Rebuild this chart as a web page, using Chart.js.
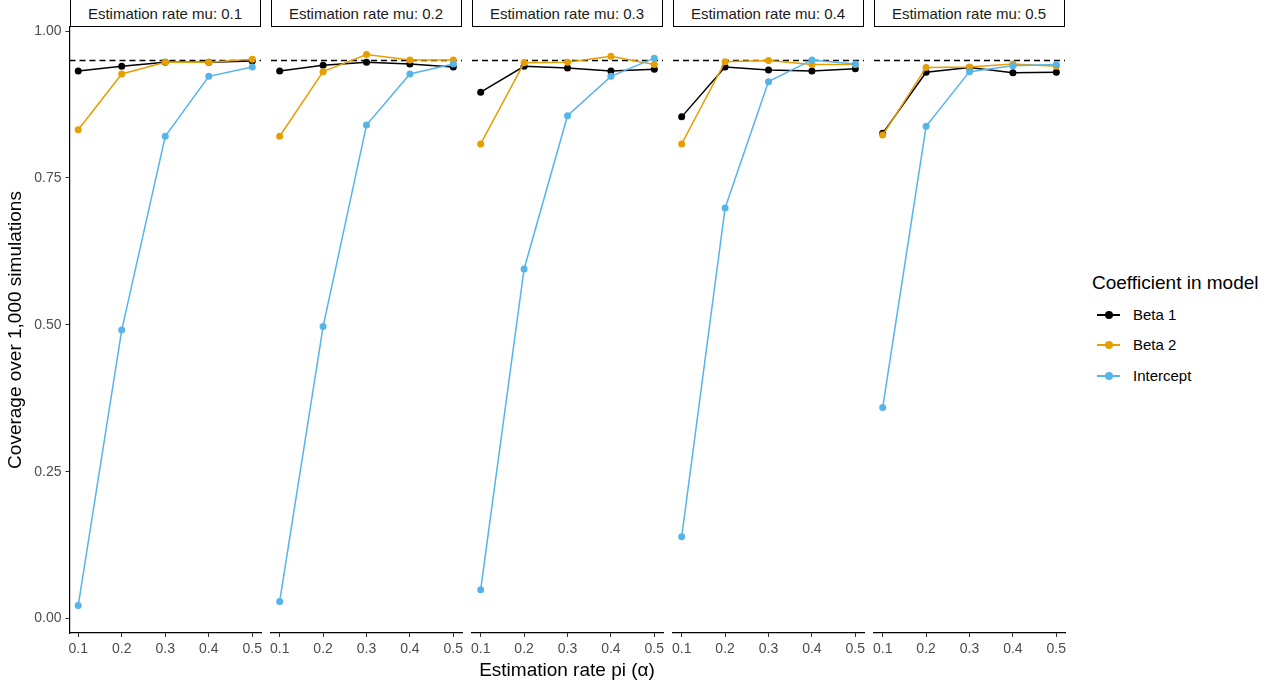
<!DOCTYPE html>
<html>
<head>
<meta charset="utf-8">
<script src="https://cdn.jsdelivr.net/npm/chart.js@4.4.1/dist/chart.umd.min.js"></script>
<style>
  body { margin: 0; background: #fff; font-family: Arial, "Liberation Sans", sans-serif; }
  #wrap { position: relative; width: 1285px; height: 691px; overflow: hidden; background: #fff; }
  .panel { position: absolute; top: 0; }
  .strip { position: absolute; top: -1px; height: 28px; box-sizing: border-box; border: 1.4px solid #000;
           background: #fff; font-size: 15px; color: #1a1a1a; text-align: center; line-height: 27px; }
  .xtitle { position: absolute; top: 659px; font-size: 19px; line-height: 22px; color: #000; white-space: nowrap; transform: translateX(-50%); }
  .legend { position: absolute; left: 1092px; top: 0; color: #000; }
  .legend .ttl { position: absolute; top: 272px; left: 0; font-size: 19px; line-height: 22px; white-space: nowrap; }
  .legend .item { position: absolute; left: 0; width: 180px; height: 20px; font-size: 15px; }
  .legend .ln { position: absolute; left: 5px; top: 9px; width: 23px; height: 2px; }
  .legend .dot { position: absolute; left: 13px; top: 6px; width: 8px; height: 8px; border-radius: 50%; }
  .legend .lab { position: absolute; left: 41px; top: 1px; line-height: 17px; white-space: nowrap; }
</style>
</head>
<body>
<div id="wrap"></div>
<script>
// values
const alphaValues = [0.1, 0.2, 0.3, 0.4, 0.5];
const muValues = ['0.1', '0.2', '0.3', '0.4', '0.5'];

const beta1 = [
  [0.932, 0.940, 0.947, 0.947, 0.949],
  [0.932, 0.942, 0.947, 0.944, 0.939],
  [0.896, 0.940, 0.937, 0.932, 0.935],
  [0.854, 0.939, 0.934, 0.932, 0.936],
  [0.826, 0.930, 0.938, 0.929, 0.930]
];
const beta2 = [
  [0.832, 0.927, 0.947, 0.947, 0.952],
  [0.821, 0.931, 0.960, 0.951, 0.951],
  [0.808, 0.946, 0.947, 0.957, 0.943],
  [0.808, 0.948, 0.950, 0.943, 0.943],
  [0.823, 0.938, 0.939, 0.944, 0.940]
];
const intercept = [
  [0.022, 0.491, 0.821, 0.923, 0.939],
  [0.029, 0.497, 0.840, 0.927, 0.944],
  [0.049, 0.595, 0.856, 0.923, 0.954],
  [0.139, 0.699, 0.914, 0.951, 0.944],
  [0.359, 0.838, 0.931, 0.941, 0.943]
];
const nominal = 0.95;

const seriesNames = ['Beta 1', 'Beta 2', 'Intercept'];
const seriesColors = ['#000000', '#E69F00', '#56B4E9'];
const xTicks = [0.1, 0.2, 0.3, 0.4, 0.5];
const yTicks = [0, 0.25, 0.5, 0.75, 1.0];

const FONT = 'Arial, "Liberation Sans", sans-serif';
const wrap = document.getElementById('wrap');

const panelLeft0 = 69.5, panelStep = 201, panelW = 191;
const areaTop = 27, areaBottom = 633;
const xMin = 0.08, xMax = 0.52, yMin = -0.0247, yMax = 1.007;

function pts(vals) {
  return vals.map((v, i) => ({ x: alphaValues[i], y: v }));
}

muValues.forEach((mu, p) => {
  const first = p === 0;
  const left = panelLeft0 + p * panelStep;
  const padL = first ? 0 : 14;
  const padR = 14;
  const yAxisW = first ? left : 0;
  const canvasLeft = first ? 0 : left - padL;
  const w = Math.round(padL + yAxisW + panelW + padR);

  const div = document.createElement('div');
  div.className = 'panel';
  div.style.left = canvasLeft + 'px';
  const cv = document.createElement('canvas');
  cv.width = w; cv.height = 691;
  cv.style.width = w + 'px'; cv.style.height = '691px';
  div.appendChild(cv);
  wrap.appendChild(div);

  const strip = document.createElement('div');
  strip.className = 'strip';
  strip.style.left = left + 'px';
  strip.style.width = panelW + 'px';
  strip.textContent = 'Estimation rate mu: ' + mu;
  wrap.appendChild(strip);

  const series = [beta1[p], beta2[p], intercept[p]];
  const datasets = series.map((vals, s) => ({
    label: seriesNames[s],
    data: pts(vals),
    borderColor: seriesColors[s],
    backgroundColor: seriesColors[s],
    borderWidth: 1.5,
    pointRadius: 3.5,
    pointBorderWidth: 0,
    pointHoverRadius: 3.5,
    order: 2 - s,
    clip: false
  }));
  datasets.push({
    label: 'nominal',
    data: [{ x: xMin, y: nominal }, { x: xMax, y: nominal }],
    borderColor: '#000',
    borderWidth: 1.5,
    borderDash: [6, 4],
    pointRadius: 0,
    order: 5
  });

  new Chart(cv, {
    type: 'line',
    data: { datasets: datasets },
    options: {
      responsive: false,
      animation: false,
      devicePixelRatio: 1,
      layout: { padding: { top: areaTop, left: padL, right: padR, bottom: 0 } },
      plugins: { legend: { display: false }, tooltip: { enabled: false } },
      scales: {
        x: {
          type: 'linear',
          min: xMin, max: xMax,
          afterBuildTicks: (sc) => { sc.ticks = xTicks.map(v => ({ value: v })); },
          afterFit: (sc) => { sc.height = 691 - areaBottom; sc.paddingLeft = 0; sc.paddingRight = 0; },
          grid: { display: true, drawOnChartArea: false, drawTicks: true, tickLength: 4, color: '#333', lineWidth: 1 },
          border: { display: true, color: '#000', width: 1.2 },
          ticks: {
            color: '#4d4d4d', font: { family: FONT, size: 14 }, padding: 4, maxRotation: 0,
            autoSkip: false,
            callback: (v) => Number(v).toFixed(1)
          }
        },
        y: {
          display: first,
          min: yMin, max: yMax,
          afterBuildTicks: (sc) => { sc.ticks = yTicks.map(v => ({ value: v })); },
          afterFit: (sc) => { sc.width = yAxisW; sc.paddingTop = 0; sc.paddingBottom = 0; },
          grid: { display: true, drawOnChartArea: false, drawTicks: true, tickLength: 4, color: '#333', lineWidth: 1 },
          border: { display: true, color: '#000', width: 1.2 },
          ticks: {
            color: '#4d4d4d', font: { family: FONT, size: 14 }, padding: 4,
            callback: (v) => Number(v).toFixed(2)
          },
          title: {
            display: true, text: 'Coverage over 1,000 simulations',
            color: '#000', font: { family: FONT, size: 19 }, padding: { top: 4, bottom: 0 }
          }
        }
      }
    }
  });
});

const xt = document.createElement('div');
xt.className = 'xtitle';
xt.style.left = (panelLeft0 + (4 * panelStep + panelW) / 2) + 'px';
xt.textContent = 'Estimation rate pi (\u03b1)';
wrap.appendChild(xt);

const lg = document.createElement('div');
lg.className = 'legend';
let html = '<div class="ttl">Coefficient in model</div>';
const itemCenters = [315, 345, 376];
seriesNames.forEach((n, i) => {
  html += '<div class="item" style="top:' + (itemCenters[i] - 10) + 'px">' +
          '<div class="ln" style="background:' + seriesColors[i] + '"></div>' +
          '<div class="dot" style="background:' + seriesColors[i] + '"></div>' +
          '<div class="lab">' + n + '</div></div>';
});
lg.innerHTML = html;
wrap.appendChild(lg);
</script>
</body>
</html>
